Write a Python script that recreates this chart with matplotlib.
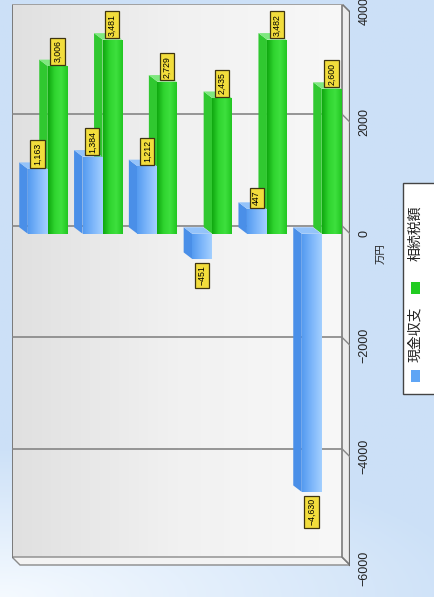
import numpy as np
import matplotlib
matplotlib.use("Agg")
import matplotlib.pyplot as plt
from matplotlib.patches import Polygon, Rectangle
from matplotlib.colors import LinearSegmentedColormap

plt.rcParams['font.family'] = ['Liberation Sans', 'Noto Sans CJK JP', 'DejaVu Sans']

# data
n_cat = 6
cash = [1163, 1384, 1212, -451, 447, -4630]      # 現金収支
tax = [3006, 3481, 2729, 2435, 3482, 2600]       # 相続税額
series_names = ['現金収支', '相続税額']
unit_label = '万円'
yticks = [-6000, -4000, -2000, 0, 2000, 4000]

W, H = 434, 597
fig = plt.figure(figsize=(W / 100, H / 100), dpi=100)

# figure background: light blue, whiter towards lower-left
bg = fig.add_axes([0, 0, 1, 1], zorder=-10)
gx, gy = np.meshgrid(np.linspace(0, 1, 200), np.linspace(0, 1, 200))
t = np.clip(np.sqrt((gx * 0.9) ** 2 + ((1 - gy) * 4.0) ** 2), 0, 1)
c0 = np.array([0.96, 0.98, 1.0])
c1 = np.array([0.80, 0.88, 0.97])
img = c0[None, None, :] * (1 - t[..., None]) + c1[None, None, :] * t[..., None]
bg.imshow(img, extent=[0, 1, 0, 1], aspect='auto', origin='upper')
bg.axis('off')

# main axes (pixel layout of the reference)
left, right, top, bottom = 12, 350, 4, 570
ax = fig.add_axes([left / W, 1 - bottom / H, (right - left) / W, (bottom - top) / H])
ax.patch.set_alpha(0)
xmin, xmax = -0.648, 5.520
ymin, ymax = -6030, 4120
ax.set_xlim(xmin, xmax)
ax.set_ylim(ymin, ymax)
for s in ax.spines.values():
    s.set_visible(False)

px_x = (xmax - xmin) / (right - left)
px_y = (ymax - ymin) / (bottom - top)

# wall geometry
dxw, dyw = -8 * px_x, 8 * px_y
x0 = xmin
x1 = xmax + dxw
vf = ymin + 5 * px_y
vb = vf + dyw

wall = np.linspace(0, 1, 256)[None, :]
wall_cmap = LinearSegmentedColormap.from_list('w', ['#e0e0e0', '#f1f1f1', '#f8f8f8'])
ax.imshow(wall, extent=[x0, x1, vb, ymax], aspect='auto', cmap=wall_cmap, zorder=0)

ax.add_patch(Polygon([(x0, vb), (x1, vb), (x1 - dxw, vf), (x0 - dxw, vf)],
                     closed=True, fc='#f3f3f3', ec='#8a8a8a', lw=1.0, zorder=1))
ax.add_patch(Polygon([(x1, ymax), (x1 - dxw, ymax - dyw), (x1 - dxw, vf), (x1, vb)],
                     closed=True, fc='#ececec', ec='#7a7a7a', lw=1.2, zorder=1))
ax.plot([x0, x0], [vb, ymax], color='#7a7a7a', lw=1.4, zorder=2)
ax.plot([x0, x1], [ymax - 0.5 * px_y, ymax - 0.5 * px_y], color='#a0a0a0', lw=1.4, zorder=2)
ax.plot([x1 - dxw, x1 - dxw], [vf, ymax - dyw], color='#6a6a6a', lw=1.6, zorder=2)

for g in [-4000, -2000, 0, 2000]:
    ax.plot([x0, x1], [g + dyw, g + dyw], color='#858585', lw=1.2, zorder=2)
    ax.plot([x1, x1 - dxw], [g + dyw, g], color='#858585', lw=1.0, zorder=2)

# bars
x = np.arange(n_cat)
off = 10 * px_x
bw = 19.5 * px_x
dxb, dyb = -8.5 * px_x, 6.5 * px_y

styles = {
    'cash': dict(front=['#559bf0', '#7db6fa', '#a3cfff'], side='#4a8fe8', top='#94c3fa'),
    'tax': dict(front=['#10a810', '#2fd42f', '#3ee03e', '#22c622'], side='#30c830', top='#7fe87f'),
}


def draw_bars(xs, vals, st, z):
    bars = ax.bar(xs, vals, width=bw, color='none', edgecolor='none', zorder=z + 0.2)
    cm = LinearSegmentedColormap.from_list('f', st['front'])
    for b, v in zip(bars, vals):
        bx = b.get_x()
        bx2 = bx + b.get_width()
        lo, hi = min(0, v), max(0, v)
        ax.add_patch(Polygon([(bx, lo), (bx + dxb, lo + dyb), (bx + dxb, hi + dyb), (bx, hi)],
                             closed=True, fc=st['side'], ec='none', zorder=z))
        ax.add_patch(Polygon([(bx, hi), (bx2, hi), (bx2 + dxb, hi + dyb), (bx + dxb, hi + dyb)],
                             closed=True, fc=st['top'], ec='none', zorder=z + 0.1))
        im = ax.imshow(np.linspace(0, 1, 64)[None, :], extent=[bx, bx2, lo, hi],
                       aspect='auto', cmap=cm, zorder=z + 0.2)
        im.set_clip_path(b)
    return bars


draw_bars(x + off, tax, styles['tax'], 5)
draw_bars(x - off, cash, styles['cash'], 6)

ax.set_xlim(xmin, xmax)
ax.set_ylim(ymin, ymax)

box = dict(boxstyle='square,pad=0.3', fc='#f2dd3c', ec='#3e3410', lw=0.9)
for xs, vals in [(x - off, cash), (x + off, tax)]:
    for xi, v in zip(xs, vals):
        if v >= 0:
            ax.annotate(f"{v:,}", (xi, v), xytext=(0, 2.8), textcoords='offset points',
                        rotation=90, ha='center', va='bottom', fontsize=6.3, bbox=box, zorder=10)
        else:
            ax.annotate(f"{v:,}".replace('-', '\u2212'), (xi, v), xytext=(0, -4.6),
                        textcoords='offset points', rotation=90, ha='center', va='top',
                        fontsize=6.3, bbox=box, zorder=10)

# value axis on the right
ax.set_xticks([])
ax.yaxis.tick_right()
ax.set_yticks(yticks)
ax.set_yticklabels([f"{v}".replace('-', '\u2212') for v in yticks])
ax.tick_params(axis='y', length=0, pad=6, labelsize=9, labelcolor='#222222')
for lab in ax.get_yticklabels():
    lab.set_rotation(90)
    lab.set_va('center')

fig.text(381 / W, 1 - 254 / H, unit_label, rotation=90, ha='center', va='center',
         fontsize=7.5, color='#222222')

# legend (rotated)
fig.patches.append(Rectangle((403 / W, 1 - 394 / H), 40 / W, 211 / H, transform=fig.transFigure,
                             fc='white', ec='#444444', lw=1.0, zorder=5))
fig.patches.append(Rectangle((411 / W, 1 - 382 / H), 9 / W, 12 / H, transform=fig.transFigure,
                             fc='#5fa5f5', ec='none', zorder=6))
fig.patches.append(Rectangle((411 / W, 1 - 294 / H), 9 / W, 12 / H, transform=fig.transFigure,
                             fc='#22cc22', ec='none', zorder=6))
fig.text(415.5 / W, 1 - 334 / H, series_names[0], rotation=90, ha='center', va='center',
         fontsize=10, color='#222222', zorder=7)
fig.text(415.5 / W, 1 - 233 / H, series_names[1], rotation=90, ha='center', va='center',
         fontsize=10, color='#222222', zorder=7)

fig.savefig('out.png', dpi=100)
